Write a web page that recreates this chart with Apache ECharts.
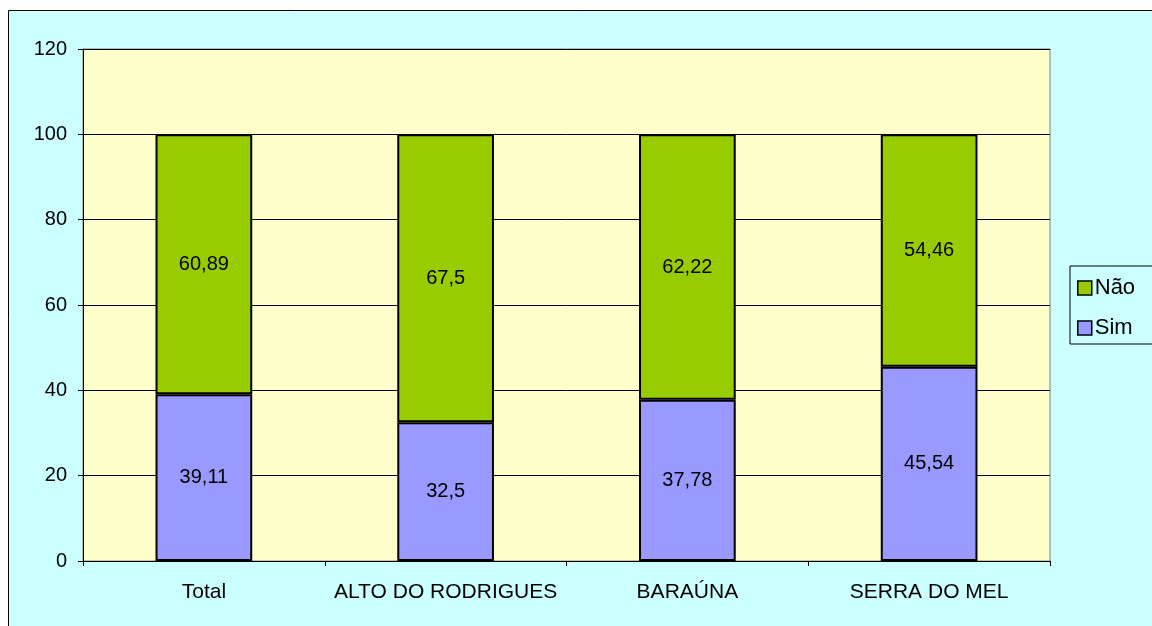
<!DOCTYPE html>
<html>
<head>
<meta charset="utf-8">
<script src="https://cdn.jsdelivr.net/npm/echarts@6/dist/echarts.min.js"></script>
<style>
  html, body { margin: 0; padding: 0; background: #fff; }
  #chart { width: 1152px; height: 626px; }
</style>
</head>
<body>
<div id="chart"></div>
<script>
// dados
const categories = ['Total', 'ALTO DO RODRIGUES', 'BARAÚNA', 'SERRA DO MEL']
const simValues = [39.11, 32.5, 37.78, 45.54]
const naoValues = [60.89, 67.5, 62.22, 54.46]
const yTicks = { min: 0, max: 120, interval: 20 }

const font = 'Liberation Sans, Arial, sans-serif'
const fmt = p => String(p.value).replace('.', ',')

const chart = echarts.init(document.getElementById('chart'))

chart.setOption({
  backgroundColor: '#fff',
  animation: false,
  textStyle: { fontFamily: font },
  graphic: [{
    type: 'rect',
    z: -10,
    shape: { x: 8.5, y: 10.5, width: 1300, height: 800 },
    style: { fill: '#CCFFFF', stroke: '#000', lineWidth: 1 },
  }],
  grid: {
    left: 83, top: 49, right: 102, bottom: 65,
    show: true,
    backgroundColor: '#FFFFCC',
    borderColor: '#808080',
    borderWidth: 1,
  },
  legend: {
    orient: 'vertical',
    left: 1070, top: 266,
    data: ['Não', 'Sim'],
    icon: 'rect',
    itemWidth: 14, itemHeight: 14,
    itemGap: 18,
    padding: [11, 40, 5, 7],
    borderColor: '#000', borderWidth: 1,
    backgroundColor: '#CCFFFF',
    textStyle: { color: '#000', fontSize: 22, lineHeight: 21, fontFamily: font, padding: [0, 0, 0, -2] },
    itemStyle: { borderColor: '#000', borderWidth: 1.5 },
  },
  xAxis: {
    type: 'category',
    data: categories,
    axisLine: { lineStyle: { color: '#000', width: 1 } },
    axisTick: { show: true, length: 5, lineStyle: { color: '#000' } },
    axisLabel: { color: '#000', fontSize: 21, margin: 21, interval: 0, fontFamily: font },
  },
  yAxis: {
    type: 'value',
    min: yTicks.min, max: yTicks.max, interval: yTicks.interval,
    axisLine: { show: true, lineStyle: { color: '#000', width: 1 } },
    axisTick: { show: true, length: 5, lineStyle: { color: '#000' } },
    axisLabel: { color: '#000', fontSize: 20, margin: 16, fontFamily: font },
    splitLine: { lineStyle: { color: '#000', width: 1 } },
  },
  series: [
    {
      name: 'Sim', type: 'bar', stack: 'a', barWidth: '40%',
      data: simValues,
      itemStyle: { color: '#9999FF', borderColor: '#000', borderWidth: 2 },
      label: { show: true, position: 'inside', color: '#000', fontSize: 20, fontFamily: font, formatter: fmt },
    },
    {
      name: 'Não', type: 'bar', stack: 'a', barWidth: '40%',
      data: naoValues,
      itemStyle: { color: '#99CC00', borderColor: '#000', borderWidth: 2 },
      label: { show: true, position: 'inside', color: '#000', fontSize: 20, fontFamily: font, formatter: fmt },
    },
  ],
})
</script>
</body>
</html>
